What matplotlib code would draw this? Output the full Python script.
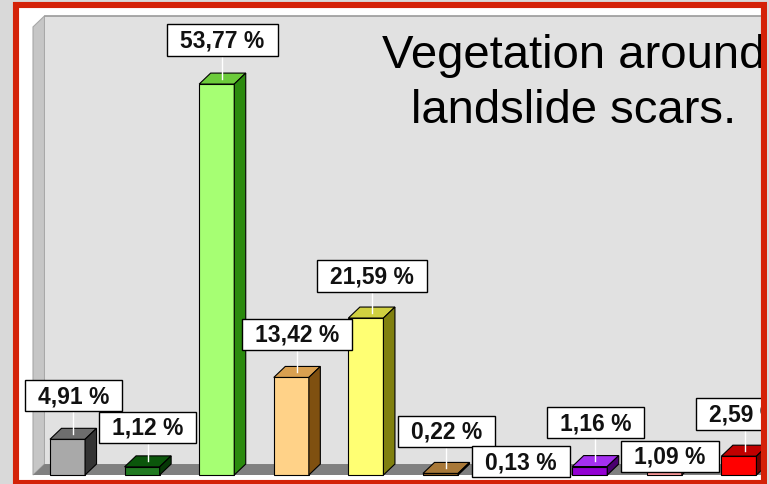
import matplotlib
matplotlib.use("Agg")
import matplotlib.pyplot as plt
from matplotlib.patches import Rectangle, Polygon
from matplotlib.path import Path

# ---- data ----
values = [4.91, 1.12, 53.77, 13.42, 21.59, 0.22, 0.13, 1.16, 1.09, 2.59]
front_colors = ["#a9a9a9", "#217a21", "#a6ff73", "#ffd288", "#ffff73",
                "#8b5a1e", "#8fc8ff", "#9400d3", "#ff9a9a", "#ff0000"]
top_colors = ["#6e6e6e", "#0b560b", "#6ccb3b", "#d9a050", "#d0d040",
              "#a87838", "#6a9ad0", "#a530f0", "#e07070", "#c00000"]
side_colors = ["#333333", "#063806", "#2b8a0e", "#7f5010", "#80800f",
               "#5a3a10", "#3a5a90", "#4b0070", "#a04040", "#700000"]
# how far above the bar top each label box sits (staggered to avoid overlap)
label_lift = [5.96, 5.48, 6.06, 5.97, 5.78, 5.83, 1.66, 6.0, 1.52, 5.8]
title_lines = ["Vegetation around", "landslide scars."]

plt.rcParams["font.family"] = ["Liberation Sans", "DejaVu Sans"]

W, H = 769, 485
fig = plt.figure(figsize=(W / 100, H / 100), dpi=100, facecolor="#d9d9d9")
ax = fig.add_axes([0, 0, 1, 1])
ax.set_xlim(-0.905, 9.403)
ax.set_ylim(-1.238, 65.47)
ax.axis("off")


def fx(px):
    return px / W


def fy(py):
    return 1 - py / H


def label_box(x0, y0, width, height, mutation_size):
    # rectangle with wider horizontal than vertical padding
    px, py = 0.565 * mutation_size, 0.175 * mutation_size
    l, r, b, t = x0 - px, x0 + width + px, y0 - py, y0 + height + py
    return Path([(l, b), (r, b), (r, t), (l, t), (l, b)], closed=True)


# white card behind the chart
ax.add_patch(Rectangle((fx(14), 0), fx(769) - fx(14), fy(3), transform=ax.transAxes,
                       facecolor="white", edgecolor="none", zorder=0))

# 3D box: walls and floor
bw = 0.47          # bar width (category units)
dx, dy = 0.154, 1.51   # depth offset
x0 = -0.4625
xr = 9.7
ytop = 61.63
ax.add_patch(Polygon([(x0, 0), (x0 + dx, dy), (x0 + dx, ytop + dy), (x0, ytop)],
                     facecolor="#c6c6c6", edgecolor="#a8a8a8", lw=0.8, zorder=1))
ax.add_patch(Rectangle((x0 + dx, dy), xr - x0, ytop, facecolor="#e1e1e1",
                       edgecolor="none", zorder=1))
ax.plot([x0 + dx, xr], [ytop + dy, ytop + dy], color="#9a9a9a", lw=1.2, zorder=1.5)
ax.add_patch(Polygon([(x0, 0), (xr, 0), (xr + dx, dy), (x0 + dx, dy)],
                     facecolor="#808080", edgecolor="none", zorder=1.5))

# bars
for i, v in enumerate(values):
    l, r = i - bw / 2, i + bw / 2
    ax.add_patch(Rectangle((l, 0), bw, v, facecolor=front_colors[i],
                           edgecolor="black", lw=0.8, zorder=3))
    ax.add_patch(Polygon([(l, v), (r, v), (r + dx, v + dy), (l + dx, v + dy)],
                         facecolor=top_colors[i], edgecolor="black", lw=0.8, zorder=3))
    ax.add_patch(Polygon([(r, 0), (r + dx, dy), (r + dx, v + dy), (r, v)],
                         facecolor=side_colors[i], edgecolor="black", lw=0.8, zorder=3))

    # leader line + label
    lx = i + dx / 2
    ax.plot([lx, lx], [v + dy / 2, v + label_lift[i]], color="white", lw=1, zorder=4)
    txt = f"{v:.2f}".replace(".", ",") + " %"
    ax.text(lx, v + label_lift[i], txt, ha="center", va="center",
            fontsize=16.5, fontweight="bold", color="#111111", zorder=6,
            bbox=dict(boxstyle=label_box, facecolor="white",
                      edgecolor="black", lw=1))

# title
for line, py in zip(title_lines, [68, 123]):
    ax.text(fx(574), fy(py), line, transform=ax.transAxes, ha="center",
            va="baseline", fontsize=34, color="black", zorder=7)

# red frame on top
ax.add_patch(Rectangle((fx(16), fy(484)), fx(764) - fx(16), fy(6) - fy(484),
                       transform=ax.transAxes, facecolor="none",
                       edgecolor="#d42208", lw=4.4, zorder=20, clip_on=False))
ax.add_patch(Rectangle((fx(767), 0), fx(769) - fx(767), 1, transform=ax.transAxes,
                       facecolor="#d9d9d9", edgecolor="none", zorder=21))

fig.savefig("out.png", dpi=100, facecolor=fig.get_facecolor())
